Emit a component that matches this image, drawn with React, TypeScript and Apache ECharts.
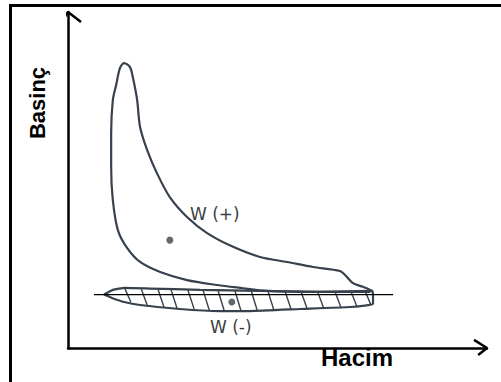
import React, { useEffect, useRef } from "react";
import * as echarts from "echarts";

// Indicator diagram of an engine cycle: volume (Hacim) against pressure (Basınç),
// both in arbitrary units on a 0–100 scale.

// Power loop, traced from the lower right end, up the compression side to the peak
// and back down the expansion side.
const powerLoopVolume = [
  72.1, 60.1, 47.5, 41.1, 35.6, 28.4, 22.0, 17.2, 14.1, 11.9, 10.7, 10.3, 10.3, 10.7,
  11.5, 12.4, 13.4, 14.8, 15.5, 16.5, 17.2, 18.9, 21.2, 24.3, 28.4, 33.2, 39.4, 45.8,
  52.3, 58.5, 64.9, 66.6, 68.0, 70.4, 72.6,
];
const powerLoopPressure = [
  16.7, 16.7, 17.0, 17.9, 18.75, 20.2, 22.6, 25.6, 29.8, 35.1, 44.0, 53.9, 64.0, 73.8,
  78.3, 83.3, 84.8, 83.6, 80.4, 73.8, 65.8, 58.9, 52.1, 44.9, 39.0, 34.2, 30.1, 27.1,
  25.6, 24.1, 22.9, 21.1, 19.3, 18.2, 17.0,
];

// Pumping loop (negative work) below the atmospheric line
const pumpLoopVolume = [
  8.6, 10.7, 13.6, 19.6, 31.5, 45.8, 60.1, 72.6, 72.8, 72.8, 67.3, 55.4, 43.4, 36.3,
  26.7, 17.2, 13.4, 10.5, 8.6,
];
const pumpLoopPressure = [
  15.9, 17.3, 17.9, 17.7, 17.3, 17.0, 16.7, 17.0, 15.5, 13.1, 12.2, 11.6, 11.0, 11.0,
  11.6, 12.8, 13.7, 14.9, 15.9,
];

// Hatching inside the pumping loop: [volumeTop, pressureTop, volumeBottom, pressureBottom]
const hatchStrokes: number[][] = [
  [13.6, 17.6, 15.0, 13.7],
  [17.5, 17.5, 18.9, 12.8],
  [21.5, 17.4, 22.9, 12.2],
  [24.6, 17.3, 26.0, 11.9],
  [28.6, 17.3, 30.1, 11.6],
  [32.2, 17.3, 33.7, 11.3],
  [35.8, 17.2, 37.3, 11.0],
  [39.8, 17.2, 41.3, 11.0],
  [43.7, 17.1, 45.2, 11.0],
  [47.7, 17.0, 49.2, 11.0],
  [51.8, 16.9, 53.3, 11.3],
  [55.6, 16.8, 57.1, 11.6],
  [59.6, 16.7, 61.1, 11.6],
  [63.7, 16.8, 65.2, 11.9],
  [67.5, 16.9, 69.0, 12.2],
  [70.9, 17.0, 72.3, 12.8],
];

// Atmospheric pressure line
const atmosphereVolume = [6.2, 77.6];
const atmospherePressure = 15.9;

// Reference points marked inside each loop
const markedPoints = [
  [24.3, 32.1],
  [39.1, 13.7],
];

// Arrow heads at the ends of the axes
const yArrowHead = [
  [-1.9, 96.4],
  [0, 100],
  [3.1, 97.0],
];
const xArrowHead = [
  [96.9, 2.4],
  [100, 0],
  [97.9, -2.1],
];

const workLabels = ["W (+)", "W (-)"];
const axisTitles = { volume: "Hacim", pressure: "Basinç" };

const curveColor = "#37424e";

export default function App() {
  const ref = useRef<HTMLDivElement>(null);

  useEffect(() => {
    if (!ref.current) return;
    const chart = echarts.init(ref.current, undefined, { renderer: "svg" });

    const zip = (a: number[], b: number[]) => a.map((v, i) => [v, b[i]]);

    const bareAxis = {
      type: "value" as const,
      min: 0,
      max: 100,
      axisLine: { show: true, lineStyle: { color: "#000", width: 2.5 } },
      axisTick: { show: false },
      axisLabel: { show: false },
      splitLine: { show: false },
    };

    chart.setOption({
      animation: false,
      backgroundColor: "#fff",
      grid: { left: 68, right: 14, top: 12, bottom: 34 },
      xAxis: { ...bareAxis },
      yAxis: { ...bareAxis },
      series: [
        {
          type: "line",
          data: zip(powerLoopVolume, powerLoopPressure),
          smooth: 0.3,
          showSymbol: false,
          clip: false,
          lineStyle: { color: curveColor, width: 2.2 },
        },
        {
          type: "line",
          data: zip(pumpLoopVolume, pumpLoopPressure),
          smooth: 0.15,
          showSymbol: false,
          clip: false,
          lineStyle: { color: curveColor, width: 2.2 },
        },
        {
          type: "lines",
          coordinateSystem: "cartesian2d",
          data: hatchStrokes.map((s) => ({
            coords: [
              [s[0], s[1]],
              [s[2], s[3]],
            ],
          })),
          lineStyle: { color: curveColor, width: 1.4, opacity: 1 },
        },
        {
          type: "line",
          data: atmosphereVolume.map((v) => [v, atmospherePressure]),
          showSymbol: false,
          lineStyle: { color: "#000", width: 1.3 },
        },
        {
          type: "scatter",
          data: markedPoints,
          symbolSize: 7,
          itemStyle: { color: "#3c434a" },
        },
        {
          type: "line",
          data: yArrowHead,
          showSymbol: false,
          clip: false,
          lineStyle: { color: "#000", width: 2.5 },
        },
        {
          type: "line",
          data: xArrowHead,
          showSymbol: false,
          clip: false,
          lineStyle: { color: "#000", width: 2.5 },
        },
      ],
      graphic: [
        // frame on the top and left edges
        { type: "rect", shape: { x: 9, y: 4, width: 492, height: 3 }, style: { fill: "#000" } },
        { type: "rect", shape: { x: 9, y: 4, width: 3, height: 378 }, style: { fill: "#000" } },
        {
          type: "text",
          x: 37,
          y: 103,
          rotation: Math.PI / 2,
          style: {
            text: axisTitles.pressure,
            fill: "#000",
            font: 'bold 22px "Liberation Sans", Arial, sans-serif',
            align: "center",
            verticalAlign: "middle",
          },
        },
        {
          type: "text",
          x: 357,
          y: 357,
          style: {
            text: axisTitles.volume,
            fill: "#000",
            font: 'bold 24px "Liberation Sans", Arial, sans-serif',
            align: "center",
            verticalAlign: "middle",
          },
        },
        {
          type: "text",
          x: 190,
          y: 214,
          style: {
            text: workLabels[0],
            fill: "#3a3f44",
            font: '17px "DejaVu Sans", sans-serif',
            align: "left",
            verticalAlign: "middle",
          },
        },
        {
          type: "text",
          x: 210,
          y: 327,
          style: {
            text: workLabels[1],
            fill: "#3a3f44",
            font: '17px "DejaVu Sans", sans-serif',
            align: "left",
            verticalAlign: "middle",
          },
        },
      ],
    });

    return () => chart.dispose();
  }, []);

  return (
    <div
      ref={ref}
      style={{ position: "fixed", left: 0, top: 0, width: 501, height: 382, background: "#fff" }}
    />
  );
}
